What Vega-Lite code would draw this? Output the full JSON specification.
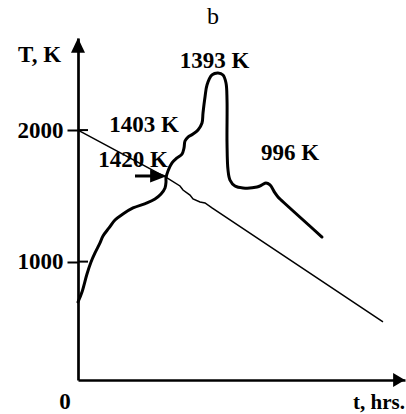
{
  "$schema": "https://vega.github.io/schema/vega-lite/v6.json",
  "width": 327,
  "height": 342,
  "autosize": {"type": "none"},
  "padding": {"left": 78, "top": 38, "right": 1, "bottom": 34},
  "background": "white",
  "config": {
    "view": {"stroke": null},
    "axis": {"grid": false, "domainColor": "black", "domainWidth": 2.7}
  },
  "datasets": {
    "hot": [
      {"i": 1, "t": 0.0, "T": 693},
      {"i": 2, "t": 0.122, "T": 769},
      {"i": 3, "t": 0.275, "T": 906},
      {"i": 4, "t": 0.398, "T": 997},
      {"i": 5, "t": 0.52, "T": 1066},
      {"i": 6, "t": 0.673, "T": 1142},
      {"i": 7, "t": 0.765, "T": 1195},
      {"i": 8, "t": 0.948, "T": 1256},
      {"i": 9, "t": 1.131, "T": 1316},
      {"i": 10, "t": 1.376, "T": 1362},
      {"i": 11, "t": 1.682, "T": 1408},
      {"i": 12, "t": 2.11, "T": 1446},
      {"i": 13, "t": 2.355, "T": 1476},
      {"i": 14, "t": 2.538, "T": 1514},
      {"i": 15, "t": 2.661, "T": 1560},
      {"i": 16, "t": 2.691, "T": 1605},
      {"i": 17, "t": 2.691, "T": 1636},
      {"i": 18, "t": 2.752, "T": 1689},
      {"i": 19, "t": 2.875, "T": 1750},
      {"i": 20, "t": 3.028, "T": 1788},
      {"i": 21, "t": 3.18, "T": 1818},
      {"i": 22, "t": 3.242, "T": 1864},
      {"i": 23, "t": 3.272, "T": 1917},
      {"i": 24, "t": 3.364, "T": 1947},
      {"i": 25, "t": 3.517, "T": 1970},
      {"i": 26, "t": 3.67, "T": 2001},
      {"i": 27, "t": 3.792, "T": 2054},
      {"i": 28, "t": 3.823, "T": 2130},
      {"i": 29, "t": 3.884, "T": 2251},
      {"i": 30, "t": 3.945, "T": 2343},
      {"i": 31, "t": 4.098, "T": 2419},
      {"i": 32, "t": 4.281, "T": 2434},
      {"i": 33, "t": 4.434, "T": 2419},
      {"i": 34, "t": 4.526, "T": 2358},
      {"i": 35, "t": 4.557, "T": 2229},
      {"i": 36, "t": 4.557, "T": 1902},
      {"i": 37, "t": 4.587, "T": 1697},
      {"i": 38, "t": 4.648, "T": 1620},
      {"i": 39, "t": 4.801, "T": 1575},
      {"i": 40, "t": 5.046, "T": 1560},
      {"i": 41, "t": 5.474, "T": 1567},
      {"i": 42, "t": 5.627, "T": 1583},
      {"i": 43, "t": 5.749, "T": 1598},
      {"i": 44, "t": 5.872, "T": 1583},
      {"i": 45, "t": 6.024, "T": 1522},
      {"i": 46, "t": 6.116, "T": 1491},
      {"i": 47, "t": 6.177, "T": 1476},
      {"i": 48, "t": 7.462, "T": 1187}
    ],
    "cool": [
      {"i": 1, "t": 0.0, "T": 2000},
      {"i": 2, "t": 2.722, "T": 1636},
      {"i": 3, "t": 3.119, "T": 1575},
      {"i": 4, "t": 3.211, "T": 1544},
      {"i": 5, "t": 3.425, "T": 1506},
      {"i": 6, "t": 3.517, "T": 1476},
      {"i": 7, "t": 3.731, "T": 1453},
      {"i": 8, "t": 3.884, "T": 1446},
      {"i": 9, "t": 4.098, "T": 1408},
      {"i": 10, "t": 9.327, "T": 541}
    ],
    "inner_ticks": [
      {"t": 0, "t2": 0.306, "T": 1000},
      {"t": 0, "t2": 0.306, "T": 2000}
    ],
    "shaft": [
      {"t": 1.743, "t2": 2.3, "T": 1651}
    ],
    "labels": [
      {"t": 4.174, "T": 2472, "label": "1393 K"},
      {"t": 2.018, "T": 1985, "label": "1403 K"},
      {"t": 1.682, "T": 1719, "label": "1420 K"},
      {"t": 6.483, "T": 1772, "label": "996 K"},
      {"t": -1.177, "T": 2517, "label": "T, K"},
      {"t": -0.398, "T": -122, "label": "0"}
    ]
  },
  "encoding": {
    "x": {
      "field": "t",
      "type": "quantitative",
      "scale": {"domain": [0, 10], "nice": false, "zero": false},
      "axis": {"title": null, "labels": false, "ticks": false, "domain": true}
    },
    "y": {
      "field": "T",
      "type": "quantitative",
      "scale": {"domain": [100, 2700], "nice": false, "zero": false},
      "axis": {
        "title": null,
        "values": [1000, 2000],
        "format": "d",
        "tickSize": 11,
        "tickWidth": 2,
        "tickColor": "black",
        "labelPadding": 4,
        "labelFont": "Liberation Serif",
        "labelFontWeight": "bold",
        "labelFontSize": 23,
        "labelColor": "black"
      }
    }
  },
  "layer": [
    {
      "data": {"name": "cool"},
      "mark": {"type": "line", "color": "black", "strokeWidth": 1.5},
      "encoding": {"order": {"field": "i"}}
    },
    {
      "data": {"name": "hot"},
      "mark": {"type": "line", "color": "black", "strokeWidth": 3, "interpolate": "catmull-rom", "strokeCap": "round", "strokeJoin": "round"},
      "encoding": {"order": {"field": "i"}}
    },
    {
      "data": {"name": "inner_ticks"},
      "mark": {"type": "rule", "color": "black", "strokeWidth": 2},
      "encoding": {"x2": {"field": "t2"}}
    },
    {
      "data": {"name": "shaft"},
      "mark": {"type": "rule", "color": "black", "strokeWidth": 3},
      "encoding": {"x2": {"field": "t2"}}
    },
    {
      "data": {"values": [{"t": 2.722, "T": 1651}]},
      "mark": {"type": "point", "filled": true, "color": "black", "opacity": 1, "strokeWidth": 0, "size": 169, "shape": "M0,0L-2.6,-1L-2.6,1Z"}
    },
    {
      "data": {"values": [{"t": 0, "T": 2700}]},
      "mark": {"type": "point", "filled": true, "color": "black", "opacity": 1, "strokeWidth": 0, "size": 196, "shape": "M0,0L1,2.1L-1,2.1Z", "clip": false}
    },
    {
      "data": {"values": [{"t": 10, "T": 100}]},
      "mark": {"type": "point", "filled": true, "color": "black", "opacity": 1, "strokeWidth": 0, "size": 196, "shape": "M0,0L-1.7,-1L-1.7,1Z", "clip": false}
    },
    {
      "data": {"name": "labels"},
      "mark": {"type": "text", "font": "Liberation Serif", "fontWeight": "bold", "fontSize": 23, "color": "black", "align": "center", "baseline": "alphabetic"},
      "encoding": {"text": {"field": "label"}}
    },
    {
      "data": {"values": [{"t": 10, "T": -122, "label": "t, hrs."}]},
      "mark": {"type": "text", "font": "Liberation Serif", "fontWeight": "bold", "fontSize": 21, "color": "black", "align": "right", "baseline": "alphabetic"},
      "encoding": {"text": {"field": "label"}}
    },
    {
      "data": {"values": [{"t": 4.128, "T": 2806, "label": "b"}]},
      "mark": {"type": "text", "font": "Liberation Serif", "fontWeight": "normal", "fontSize": 24, "color": "black", "align": "center", "baseline": "alphabetic"},
      "encoding": {"text": {"field": "label"}}
    }
  ]
}
